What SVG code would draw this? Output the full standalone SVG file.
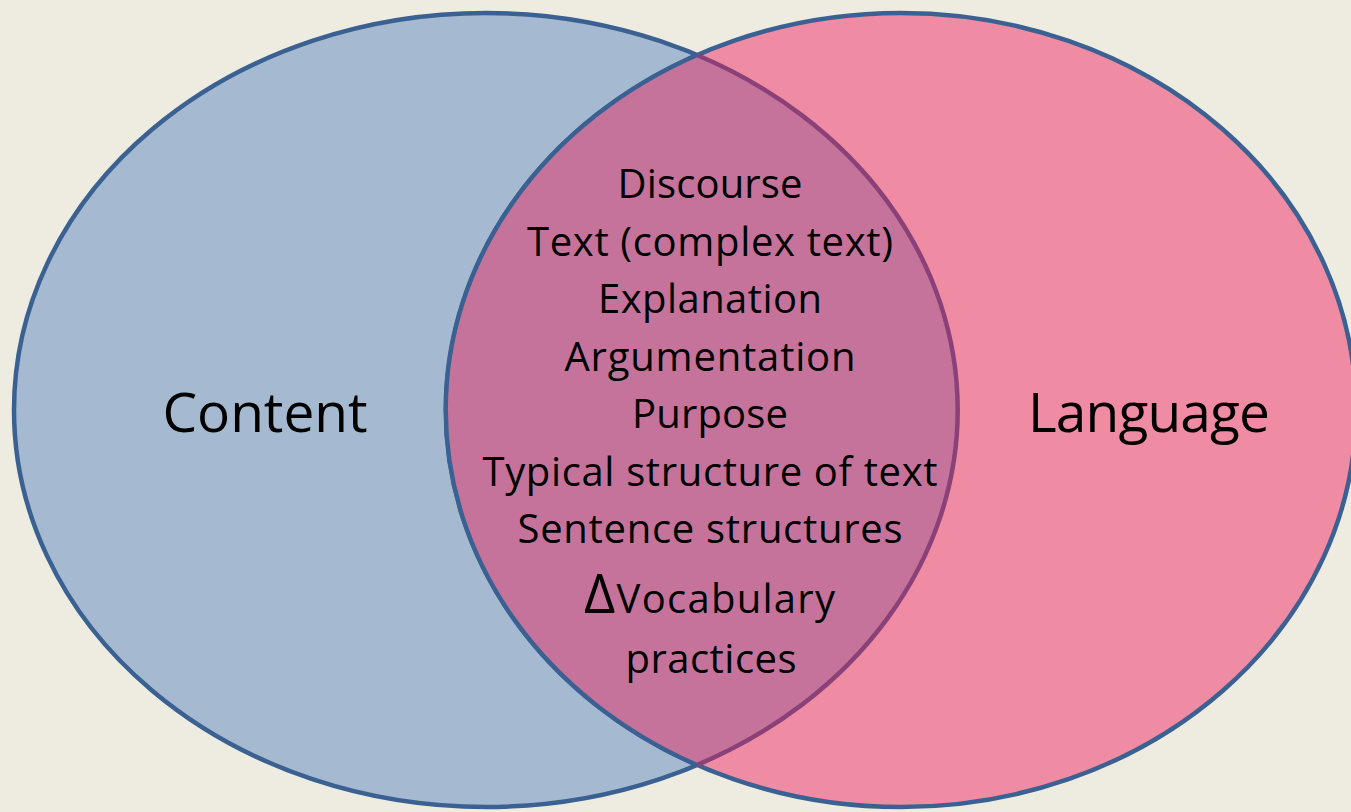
<svg xmlns="http://www.w3.org/2000/svg" width="1351" height="812" viewBox="0 0 1351 812">
  <style>
    .lbl { font-family: "Open Sans", "Liberation Sans", sans-serif; fill: #000000; text-anchor: middle; }
    .big { font-size: 55px; }
    .mid { font-size: 40px; }
    .edge { fill: none; stroke-width: 4.5; }
  </style>
  <rect x="0" y="0" width="1351" height="812" fill="#EEECE1"/>
  <g id="content">
    <ellipse cx="486" cy="410" rx="472" ry="397" fill="#A5BAD0" stroke="#3A6191" stroke-width="4.5"/>
    <text class="lbl big" x="265" y="432" textLength="205">Content</text>
  </g>
  <g id="language">
    <ellipse cx="901" cy="410" rx="455" ry="397" fill="#F08BA4" stroke="#3A6191" stroke-width="4.5"/>
    <text class="lbl big" x="1149" y="432" textLength="242">Language</text>
  </g>
  <g id="overlap">
    <path d="M697,55 A472,397 0 0,1 697,765 A455,397 0 0,1 697,55 Z" fill="#C6739B"/>
    <path class="edge" d="M697,55 A472,397 0 0,1 697,765" stroke="#8A4178"/>
    <path class="edge" d="M697,765 A455,397 0 0,1 697,55" stroke="#3A6191"/>
    <text class="lbl mid" x="710" y="198" textLength="185">Discourse</text>
    <text class="lbl mid" x="710" y="256" textLength="366">Text (complex text)</text>
    <text class="lbl mid" x="710" y="313" textLength="224">Explanation</text>
    <text class="lbl mid" x="710" y="371" textLength="291">Argumentation</text>
    <text class="lbl mid" x="710" y="428" textLength="156">Purpose</text>
    <text class="lbl mid" x="710" y="486" textLength="455">Typical structure of text</text>
    <text class="lbl mid" x="710" y="543" textLength="385">Sentence structures</text>
    <text class="lbl mid" x="709.5" y="613" textLength="251"><tspan font-size="54px">Δ</tspan>Vocabulary</text>
    <text class="lbl mid" x="711" y="673" textLength="171">practices</text>
  </g>
</svg>
